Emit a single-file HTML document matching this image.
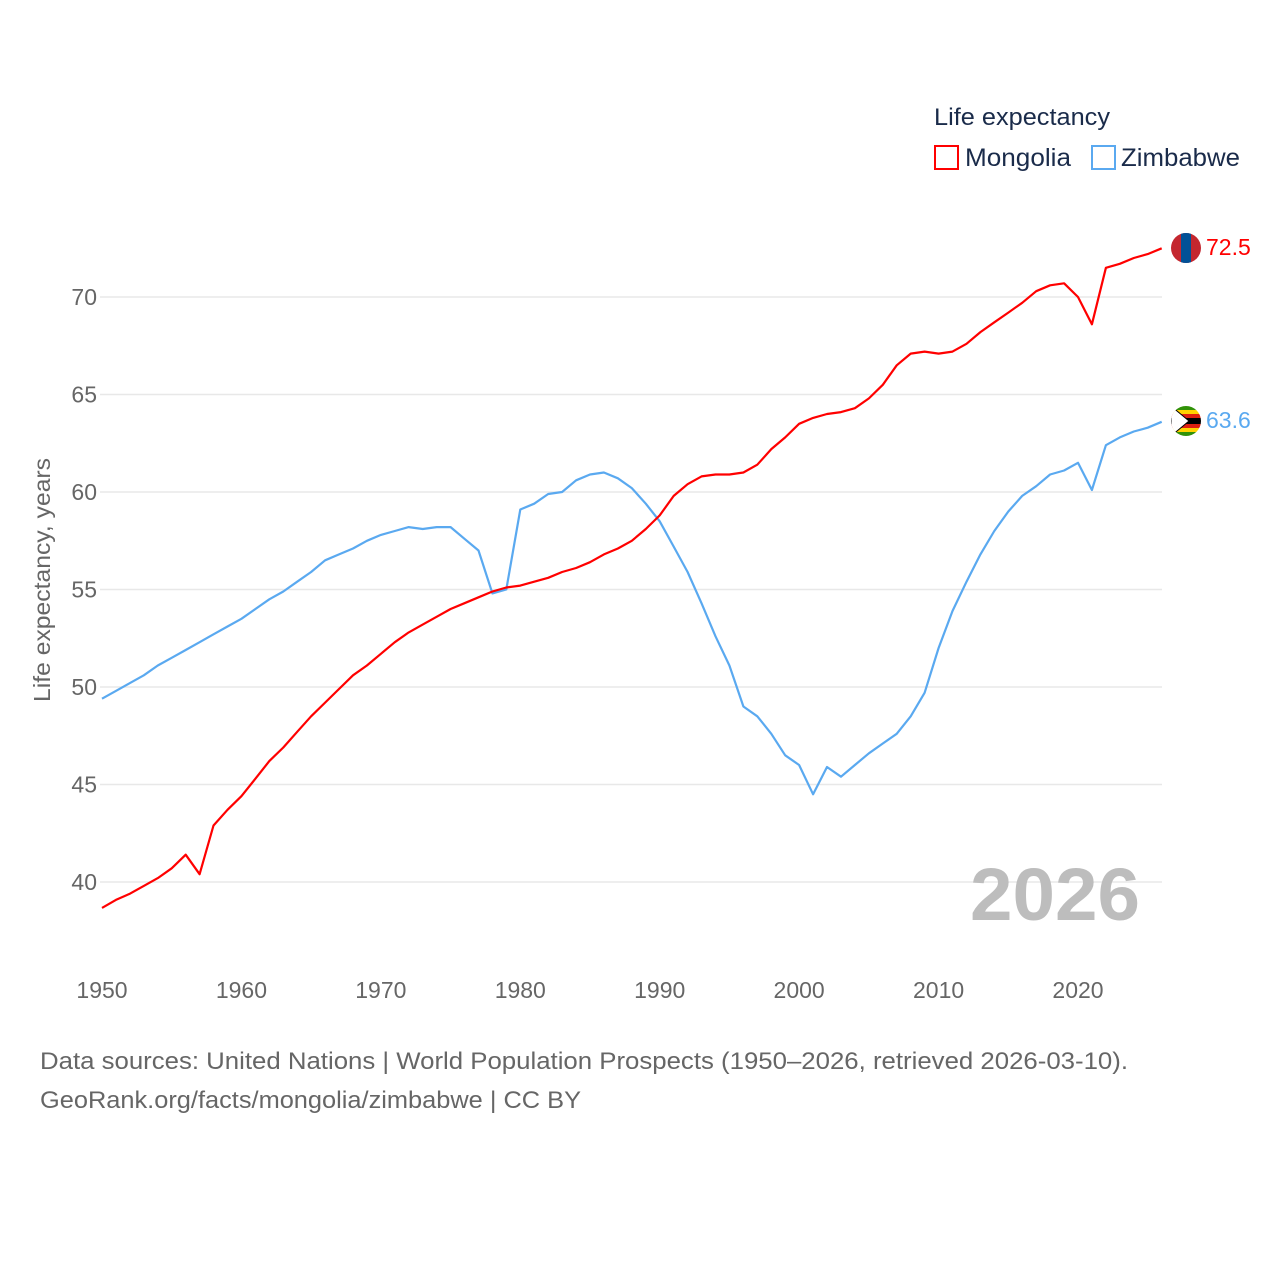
<!DOCTYPE html>
<html><head><meta charset="utf-8"><style>
body{margin:0;background:#fff;width:1280px;height:1280px;overflow:hidden;font-family:"Liberation Sans",sans-serif}
</style></head><body>
<svg id="chart" width="1280" height="1280" xmlns="http://www.w3.org/2000/svg" font-family="Liberation Sans, sans-serif">
<g id="grid"></g>
<g id="yticks"></g>
<g id="xticks"></g>
<text transform="translate(50,580) rotate(-90)" text-anchor="middle" font-size="23" fill="#666" textLength="244" lengthAdjust="spacingAndGlyphs">Life expectancy, years</text>
<text x="970" y="920" font-size="74" font-weight="bold" fill="#bdbdbd" textLength="170" lengthAdjust="spacingAndGlyphs">2026</text>
<g id="series"></g>
<g>
<text x="934" y="125" font-size="24" fill="#1a2b4a" textLength="176" lengthAdjust="spacingAndGlyphs">Life expectancy</text>
<g><rect x="935" y="146" width="23" height="23" fill="none" stroke="#ff0000" stroke-width="2"/><text x="965" y="166" font-size="25" fill="#1a2b4a" textLength="106" lengthAdjust="spacingAndGlyphs">Mongolia</text></g>
<g><rect x="1092" y="146" width="23" height="23" fill="none" stroke="#5aa9f0" stroke-width="2"/><text x="1121" y="166" font-size="25" fill="#1a2b4a" textLength="119" lengthAdjust="spacingAndGlyphs">Zimbabwe</text></g>
</g>
<g><clipPath id="c1"><circle cx="1186" cy="248" r="15"/></clipPath><g clip-path="url(#c1)"><rect x="1171" y="233" width="30" height="30" fill="#c4272f"/><rect x="1181" y="233" width="10" height="30" fill="#015197"/></g></g>
<g><clipPath id="c2"><circle cx="1186" cy="421" r="15"/></clipPath><g clip-path="url(#c2)"><rect x="1171" y="406" width="30" height="30" fill="#fff"/><rect x="1171" y="406" width="30" height="4" fill="#319208"/><rect x="1171" y="410" width="30" height="4" fill="#ffd200"/><rect x="1171" y="414" width="30" height="4" fill="#de2010"/><rect x="1171" y="418" width="30" height="6" fill="#000"/><rect x="1171" y="424" width="30" height="4" fill="#de2010"/><rect x="1171" y="428" width="30" height="4" fill="#ffd200"/><rect x="1171" y="432" width="30" height="4" fill="#319208"/><polygon points="1171,406 1189,421 1171,436" fill="#fff" stroke="#000" stroke-width="1"/></g></g>
<text id="lab1" x="1206" y="255" font-size="23" fill="#ff0000">72.5</text>
<text id="lab2" x="1206" y="428" font-size="23" fill="#5aa9f0">63.6</text>
<text x="40" y="1069" font-size="24" fill="#666" textLength="1088" lengthAdjust="spacingAndGlyphs">Data sources: United Nations | World Population Prospects (1950–2026, retrieved 2026-03-10).</text>
<text x="40" y="1108" font-size="24" fill="#666" textLength="541" lengthAdjust="spacingAndGlyphs">GeoRank.org/facts/mongolia/zimbabwe | CC BY</text>
</svg>
<script>
const startYear = 1950;
const xTicks = [1950,1960,1970,1980,1990,2000,2010,2020];
const yTicks = [40,45,50,55,60,65,70];
const mongolia = [38.67,39.08,39.4,39.8,40.2,40.7,41.4,40.4,42.9,43.7,44.4,45.3,46.2,46.9,47.7,48.5,49.2,49.9,50.6,51.1,51.7,52.3,52.8,53.2,53.6,54.0,54.3,54.6,54.9,55.1,55.2,55.4,55.6,55.9,56.1,56.4,56.8,57.1,57.5,58.1,58.8,59.8,60.4,60.8,60.9,60.9,61.0,61.4,62.2,62.8,63.5,63.8,64.0,64.1,64.3,64.8,65.5,66.5,67.1,67.2,67.1,67.2,67.6,68.2,68.7,69.2,69.7,70.3,70.6,70.7,70.0,68.6,71.5,71.7,72.0,72.2,72.5];
const zimbabwe = [49.4,49.8,50.2,50.6,51.1,51.5,51.9,52.3,52.7,53.1,53.5,54.0,54.5,54.9,55.4,55.9,56.5,56.8,57.1,57.5,57.8,58.0,58.2,58.1,58.2,58.2,57.6,57.0,54.8,55.0,59.1,59.4,59.9,60.0,60.6,60.9,61.0,60.7,60.2,59.4,58.5,57.2,55.9,54.3,52.6,51.1,49.0,48.5,47.6,46.5,46.0,44.5,45.9,45.4,46.0,46.6,47.1,47.6,48.5,49.7,52.0,53.9,55.4,56.8,58.0,59.0,59.8,60.3,60.9,61.1,61.5,60.1,62.4,62.8,63.1,63.3,63.6];
const NS='http://www.w3.org/2000/svg';
const x = yr => 102 + (yr-1950)*(976/70);
const y = v => 882 - (v-40)*19.5;
function mk(tag, attrs, parent){const e=document.createElementNS(NS,tag);for(const k in attrs)e.setAttribute(k,attrs[k]);parent.appendChild(e);return e;}
const grid=document.getElementById('grid'), yt=document.getElementById('yticks'), xt=document.getElementById('xticks'), ser=document.getElementById('series');
yTicks.forEach(v=>{
  const l=mk('line',{x1:100,x2:1162,y1:y(v),y2:y(v),stroke:'#e8e8e8','stroke-width':1.5},grid);
  
  
  const t=mk('text',{x:97,y:y(v)+8,'text-anchor':'end','font-size':23,fill:'#666'},yt);
  t.textContent=v;
  
  
});
xTicks.forEach(v=>{
  const t=mk('text',{x:x(v),y:998,'text-anchor':'middle','font-size':23,fill:'#666'},xt);
  t.textContent=v;
  
  
});
function line(arr,color,name){
  const d=arr.map((v,i)=>(i?'L':'M')+x(startYear+i).toFixed(1)+','+y(v).toFixed(1)).join('');
  const p=mk('path',{d:d,fill:'none',stroke:color,'stroke-width':2.2,'stroke-linejoin':'round'},ser);
  
  
}
line(zimbabwe,'#5aa9f0','zimbabwe-line');
line(mongolia,'#ff0000','mongolia-line');
</script>
</body></html>
